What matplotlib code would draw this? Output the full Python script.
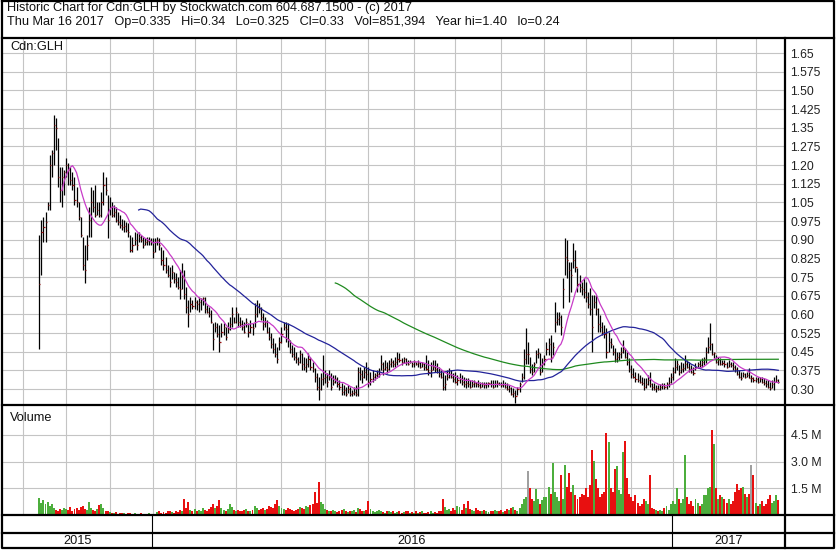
import numpy as np
import pandas as pd
import matplotlib
matplotlib.use("Agg")
import matplotlib.pyplot as plt

plt.rcParams['font.family'] = ['Liberation Sans', 'DejaVu Sans']

# ---------------- data ----------------
first_bar = "2015-10-14"
last_bar = "2017-03-16"
holidays = ["2015-10-12", "2015-12-25", "2015-12-28", "2016-01-01", "2016-02-15",
            "2016-03-25", "2016-05-23", "2016-07-01", "2016-08-01", "2016-09-05",
            "2016-10-10", "2016-12-26", "2016-12-27", "2017-01-02", "2017-02-20"]

highs = [
    0.92, 0.98, 0.99, 1.01, 1.05, 1.24, 1.26, 1.40, 1.39, 1.31,
    1.19, 1.19, 1.18, 1.23, 1.21, 1.19, 1.17, 1.15, 1.11, 1.05,
    0.99, 0.91, 0.88, 0.92, 1.03, 1.11, 1.10, 1.12, 1.05, 1.05,
    1.09, 1.17, 1.15, 1.08, 1.07, 1.05, 1.04, 1.03, 1.01, 1.00,
    0.985, 0.98, 0.97, 0.965, 0.92, 0.91, 0.93, 0.925, 0.93, 0.92,
    0.91, 0.905, 0.91, 0.91, 0.905, 0.905, 0.905, 0.91, 0.905,
    0.872, 0.86, 0.83, 0.80, 0.79, 0.80, 0.77, 0.765, 0.75, 0.78,
    0.805, 0.78, 0.71, 0.658, 0.67, 0.658, 0.67, 0.658, 0.67, 0.665,
    0.67, 0.67, 0.638, 0.63, 0.618, 0.564, 0.57, 0.564, 0.557, 0.564,
    0.564, 0.55, 0.57, 0.59, 0.63, 0.59, 0.63, 0.604, 0.59, 0.577,
    0.57, 0.584, 0.564, 0.577, 0.564, 0.645, 0.658, 0.645, 0.631, 0.604,
    0.59, 0.577, 0.55, 0.524, 0.504, 0.484, 0.47, 0.51, 0.55, 0.57,
    0.57, 0.564, 0.497, 0.477, 0.47, 0.45, 0.43, 0.457, 0.444, 0.43,
    0.424, 0.444, 0.43, 0.41, 0.383, 0.363, 0.35, 0.363, 0.437, 0.377,
    0.363, 0.377, 0.363, 0.356, 0.356, 0.35, 0.336, 0.323, 0.316, 0.31,
    0.316, 0.31, 0.296, 0.31, 0.316, 0.39, 0.39, 0.377, 0.39, 0.41,
    0.39, 0.37, 0.377, 0.363, 0.377, 0.383, 0.437, 0.41, 0.417, 0.41,
    0.417, 0.424, 0.417, 0.43, 0.45, 0.444, 0.424, 0.43, 0.424, 0.417,
    0.416, 0.41, 0.416, 0.41, 0.416, 0.41, 0.41, 0.403, 0.436, 0.416,
    0.41, 0.416, 0.416, 0.403, 0.39, 0.376, 0.37, 0.356, 0.376, 0.383,
    0.376, 0.363, 0.37, 0.356, 0.363, 0.356, 0.35, 0.343, 0.343, 0.336,
    0.336, 0.336, 0.33, 0.336, 0.33, 0.33, 0.33, 0.33, 0.33, 0.336,
    0.336, 0.336, 0.336, 0.33, 0.33, 0.336, 0.33, 0.323, 0.316, 0.31,
    0.303, 0.296, 0.31, 0.33, 0.363, 0.46, 0.545, 0.49, 0.43, 0.40,
    0.41,
    0.457, 0.463, 0.443, 0.423, 0.437, 0.49, 0.504, 0.517, 0.49, 0.651,
    0.611, 0.611, 0.597, 0.745, 0.905, 0.899, 0.812, 0.812, 0.885, 0.859,
    0.785, 0.758, 0.731, 0.745, 0.731, 0.691, 0.705, 0.678, 0.678, 0.678,
    0.624, 0.597, 0.571, 0.557, 0.544, 0.53, 0.504, 0.477, 0.463, 0.45,
    0.45, 0.47, 0.497, 0.463, 0.45, 0.423, 0.396, 0.383, 0.37, 0.363,
    0.356, 0.35, 0.343, 0.343, 0.356, 0.37,
    0.323, 0.323, 0.316, 0.316, 0.32, 0.323, 0.323, 0.33, 0.35, 0.363,
    0.39, 0.423, 0.416, 0.396, 0.41, 0.403, 0.437, 0.416, 0.41, 0.396,
    0.39, 0.403, 0.41, 0.416, 0.423, 0.43, 0.47, 0.51, 0.564, 0.483,
    0.45, 0.437, 0.43, 0.423, 0.416, 0.416, 0.41, 0.416, 0.41, 0.41,
    0.396, 0.39, 0.376, 0.37, 0.37, 0.363, 0.37, 0.383, 0.356, 0.35,
    0.35, 0.35, 0.35, 0.35, 0.343, 0.336, 0.336, 0.33, 0.336, 0.35,
    0.356, 0.34,
]

lows = [
    0.46, 0.76, 0.89, 0.89, 1.02, 1.02, 1.15, 1.20, 1.26, 1.11,
    1.05, 1.03, 1.08, 1.15, 1.12, 1.12, 1.10, 1.04, 1.03, 0.98,
    0.91, 0.78, 0.725, 0.82, 0.91, 0.91, 1.01, 0.99, 1.00, 0.99,
    0.99, 1.04, 1.08, 0.905, 1.00, 0.99, 0.99, 0.97, 0.96, 0.945,
    0.94, 0.93, 0.93, 0.912, 0.85, 0.85, 0.88, 0.86, 0.89, 0.89,
    0.865, 0.88, 0.88, 0.88, 0.88, 0.825, 0.85, 0.88, 0.86,
    0.80, 0.78, 0.765, 0.75, 0.71, 0.74, 0.725, 0.71, 0.70, 0.66,
    0.70, 0.66, 0.605, 0.55, 0.61, 0.62, 0.62, 0.618, 0.61, 0.618,
    0.638, 0.604, 0.604, 0.59, 0.564, 0.457, 0.53, 0.51, 0.45, 0.51,
    0.517, 0.497, 0.524, 0.537, 0.55, 0.564, 0.564, 0.55, 0.55, 0.537,
    0.524, 0.55, 0.51, 0.524, 0.517, 0.55, 0.59, 0.604, 0.577, 0.537,
    0.55, 0.524, 0.497, 0.464, 0.444, 0.43, 0.403, 0.457, 0.484, 0.537,
    0.49, 0.47, 0.444, 0.43, 0.417, 0.404, 0.397, 0.404, 0.377, 0.377,
    0.37, 0.39, 0.377, 0.37, 0.33, 0.296, 0.256, 0.296, 0.316, 0.323,
    0.31, 0.336, 0.296, 0.316, 0.323, 0.31, 0.296, 0.276, 0.276, 0.27,
    0.283, 0.27, 0.27, 0.276, 0.27, 0.27, 0.336, 0.323, 0.343, 0.336,
    0.31, 0.316, 0.33, 0.336, 0.343, 0.35, 0.377, 0.356, 0.377, 0.363,
    0.377, 0.39, 0.39, 0.39, 0.397, 0.41, 0.397, 0.404, 0.397, 0.397,
    0.403, 0.39, 0.39, 0.396, 0.39, 0.383, 0.39, 0.376, 0.376, 0.356,
    0.35, 0.376, 0.37, 0.363, 0.35, 0.343, 0.296, 0.296, 0.336, 0.343,
    0.343, 0.33, 0.323, 0.316, 0.323, 0.316, 0.31, 0.303, 0.31, 0.303,
    0.31, 0.31, 0.31, 0.31, 0.303, 0.31, 0.303, 0.303, 0.31, 0.31,
    0.303, 0.31, 0.31, 0.316, 0.31, 0.31, 0.303, 0.296, 0.29, 0.276,
    0.269, 0.245, 0.276, 0.29, 0.33, 0.34, 0.40, 0.40, 0.363, 0.356,
    0.37,
    0.403, 0.423, 0.356, 0.37, 0.396, 0.437, 0.437, 0.41, 0.437, 0.53,
    0.557, 0.557, 0.517, 0.624, 0.758, 0.745, 0.651, 0.691, 0.785, 0.771,
    0.691, 0.691, 0.678, 0.664, 0.651, 0.624, 0.597, 0.45, 0.624, 0.597,
    0.53, 0.53, 0.517, 0.504, 0.423, 0.45, 0.463, 0.437, 0.41, 0.41,
    0.417, 0.423, 0.443, 0.423, 0.396, 0.37, 0.343, 0.343, 0.33, 0.33,
    0.323, 0.316, 0.296, 0.303, 0.316, 0.31,
    0.296, 0.296, 0.29, 0.296, 0.296, 0.30, 0.30, 0.30, 0.31, 0.323,
    0.336, 0.363, 0.376, 0.356, 0.363, 0.37, 0.376, 0.383, 0.37, 0.363,
    0.356, 0.376, 0.383, 0.383, 0.39, 0.396, 0.403, 0.443, 0.457, 0.437,
    0.423, 0.403, 0.396, 0.396, 0.396, 0.39, 0.383, 0.39, 0.39, 0.376,
    0.37, 0.356, 0.343, 0.336, 0.35, 0.343, 0.35, 0.343, 0.33, 0.33,
    0.33, 0.323, 0.33, 0.323, 0.316, 0.31, 0.303, 0.296, 0.303, 0.296,
    0.33, 0.325,
]

closes = [
    0.72, 0.93, 0.95, 0.97, 1.04, 1.20, 1.25, 1.36, 1.35, 1.15,
    1.10, 1.15, 1.17, 1.20, 1.18, 1.14, 1.12, 1.06, 1.05, 0.99,
    0.92, 0.80, 0.78, 0.88, 0.98, 1.05, 1.03, 1.00, 1.02, 1.00,
    1.05, 1.12, 1.10, 0.98, 1.03, 1.00, 1.01, 0.98, 0.97, 0.96,
    0.95, 0.955, 0.94, 0.93, 0.86, 0.88, 0.90, 0.88, 0.91, 0.90,
    0.88, 0.89, 0.895, 0.90, 0.89, 0.85, 0.89, 0.90, 0.88,
    0.82, 0.80, 0.78, 0.76, 0.73, 0.77, 0.74, 0.73, 0.71, 0.70,
    0.75, 0.68, 0.63, 0.60, 0.64, 0.635, 0.65, 0.64, 0.65, 0.66,
    0.665, 0.62, 0.61, 0.60, 0.57, 0.50, 0.55, 0.52, 0.49, 0.53,
    0.55, 0.51, 0.54, 0.56, 0.60, 0.57, 0.61, 0.57, 0.56, 0.55,
    0.53, 0.57, 0.53, 0.55, 0.545, 0.60, 0.63, 0.62, 0.59, 0.56,
    0.57, 0.53, 0.51, 0.48, 0.46, 0.44, 0.42, 0.49, 0.52, 0.55,
    0.54, 0.50, 0.46, 0.44, 0.43, 0.42, 0.41, 0.44, 0.40, 0.39,
    0.40, 0.42, 0.39, 0.38, 0.35, 0.31, 0.30, 0.34, 0.345, 0.35,
    0.33, 0.35, 0.31, 0.33, 0.34, 0.32, 0.31, 0.29, 0.295, 0.28,
    0.30, 0.28, 0.285, 0.29, 0.28, 0.37, 0.36, 0.35, 0.37, 0.36,
    0.33, 0.34, 0.35, 0.355, 0.36, 0.37, 0.40, 0.38, 0.39, 0.38,
    0.40, 0.41, 0.40, 0.41, 0.42, 0.415, 0.41, 0.42, 0.41, 0.40,
    0.41, 0.40, 0.41, 0.40, 0.405, 0.39, 0.40, 0.39, 0.38, 0.37,
    0.375, 0.39, 0.38, 0.37, 0.36, 0.35, 0.31, 0.32, 0.35, 0.36,
    0.35, 0.34, 0.33, 0.335, 0.34, 0.33, 0.32, 0.325, 0.32, 0.31,
    0.32, 0.325, 0.32, 0.315, 0.31, 0.32, 0.315, 0.32, 0.325, 0.32,
    0.31, 0.32, 0.325, 0.32, 0.315, 0.32, 0.31, 0.30, 0.305, 0.28,
    0.285, 0.27, 0.30, 0.32, 0.35, 0.42, 0.44, 0.44, 0.38, 0.37,
    0.40,
    0.44, 0.445, 0.37, 0.40, 0.42, 0.46, 0.48, 0.43, 0.47, 0.57,
    0.58, 0.59, 0.55, 0.70, 0.83, 0.82, 0.78, 0.76, 0.82, 0.79,
    0.72, 0.71, 0.70, 0.69, 0.67, 0.64, 0.62, 0.55, 0.65, 0.62,
    0.56, 0.55, 0.53, 0.52, 0.45, 0.49, 0.48, 0.45, 0.42, 0.43,
    0.44, 0.45, 0.46, 0.43, 0.41, 0.38, 0.36, 0.35, 0.34, 0.335,
    0.33, 0.325, 0.31, 0.32, 0.335, 0.32,
    0.31, 0.30, 0.305, 0.30, 0.31, 0.315, 0.31, 0.32, 0.33, 0.35,
    0.37, 0.39, 0.40, 0.37, 0.38, 0.385, 0.40, 0.39, 0.38, 0.37,
    0.365, 0.39, 0.40, 0.395, 0.41, 0.42, 0.45, 0.47, 0.48, 0.44,
    0.445, 0.41, 0.415, 0.40, 0.405, 0.40, 0.39, 0.40, 0.395, 0.39,
    0.38, 0.36, 0.35, 0.345, 0.36, 0.35, 0.355, 0.345, 0.345, 0.335,
    0.34, 0.33, 0.34, 0.33, 0.325, 0.32, 0.31, 0.305, 0.32, 0.33,
    0.335, 0.33,
]

volume_m = [
    0.95, 0.70, 0.85, 0.60, 0.75, 0.50, 0.60, 0.40, 0.30, 0.25,
    0.35, 0.30, 0.40, 0.35, 0.30, 0.45, 0.25, 0.35, 0.40, 0.30,
    0.45, 0.50, 0.35, 0.30, 0.75, 0.40, 0.30, 0.25, 0.35, 0.55,
    0.60, 0.40, 0.25, 0.20, 0.15, 0.12, 0.10, 0.15, 0.08, 0.10,
    0.12, 0.10, 0.08, 0.10, 0.12, 0.08, 0.10, 0.06, 0.08, 0.10,
    0.07, 0.05, 0.08, 0.10, 0.06, 0.05, 0.08, 0.15, 0.20, 0.12,
    0.18, 0.10, 0.20, 0.25, 0.15, 0.12, 0.20, 0.18, 0.30, 0.25,
    0.90, 0.40, 0.73, 0.30, 0.25, 0.35, 0.20, 0.30, 0.25, 0.40,
    0.30, 0.20, 0.35, 0.45, 0.60, 0.40, 0.50, 0.83, 0.40, 0.30,
    0.25, 0.35, 0.60, 0.45, 0.30, 0.25, 0.30, 0.20, 0.25, 0.30,
    0.35, 0.25, 0.20, 0.30, 0.50, 0.40, 0.30, 0.35, 0.40, 0.30,
    0.35, 0.50, 0.45, 0.40, 0.60, 0.83, 0.50, 0.40, 0.35, 0.30,
    0.40, 0.35, 0.30, 0.25, 0.30, 0.35, 0.45, 0.40, 0.35, 0.50,
    0.45, 0.55, 0.60, 1.30, 0.70, 1.85, 0.75, 0.60, 0.35, 0.30,
    0.25, 0.20, 0.30, 0.25, 0.15, 0.20, 0.30, 0.35, 0.20, 0.15,
    0.25, 0.20, 0.30, 0.15, 0.40, 0.35, 0.20, 0.25, 0.30, 0.80,
    0.35, 0.20, 0.15, 0.25, 0.30, 0.20, 0.15, 0.10, 0.20, 0.25,
    0.15, 0.20, 0.10, 0.15, 0.20, 0.10, 0.15, 0.25, 0.20, 0.10,
    0.15, 0.12, 0.20, 0.10, 0.15, 0.20, 0.12, 0.10, 0.15, 0.20,
    0.10, 0.15, 0.12, 0.20, 0.25, 0.88, 0.45, 0.30, 0.35, 0.25,
    0.40, 0.30, 0.50, 0.45, 0.30, 0.60, 0.40, 0.80, 0.35, 0.30,
    0.25, 0.40, 0.30, 0.20, 0.25, 0.30, 0.20, 0.15, 0.25, 0.20,
    0.30, 0.25, 0.20, 0.30, 0.15, 0.20, 0.35, 0.30, 0.40, 0.45,
    0.30, 0.25, 0.40, 0.60, 0.90, 1.00, 2.50, 1.50, 0.90, 0.80,
    1.45, 0.90, 0.60, 0.85, 1.00, 1.00, 1.55, 1.20, 2.90, 1.30,
    1.00, 0.80, 2.27, 0.90, 2.80, 1.60, 2.37, 1.30, 1.70, 1.10,
    0.90, 1.00, 1.20, 1.10, 1.50, 1.00, 1.70, 3.67, 3.04, 2.04,
    1.50, 1.00, 1.20, 1.30, 4.60, 4.08, 1.50, 1.30, 2.56, 2.75,
    1.40, 1.20, 3.56, 4.13, 2.10, 1.20, 1.00, 0.80, 1.10, 0.70,
    0.50, 0.60, 0.90, 0.80, 0.60, 2.27, 0.40, 0.35, 0.30, 0.25,
    0.30, 0.25, 0.40, 0.50, 0.30, 0.60,
    0.80, 0.60, 1.50, 0.90, 0.70, 0.90, 3.37, 1.00, 0.60, 0.80,
    0.50, 0.90, 0.70, 0.50, 0.60, 1.10, 1.10, 1.50, 1.60, 4.75,
    4.00, 1.50, 0.90, 1.10, 1.00, 0.90, 0.70, 0.90, 0.60, 0.80,
    1.30, 1.73, 1.40, 1.50, 1.60, 1.20, 1.00, 1.20, 2.80, 2.27,
    0.70, 0.50, 0.60, 0.80, 0.50, 0.60, 0.90, 1.10, 0.70, 0.80,
    1.10, 0.85,
]

price_ticks = [1.65, 1.575, 1.50, 1.425, 1.35, 1.275, 1.20, 1.125, 1.05, 0.975,
               0.90, 0.825, 0.75, 0.675, 0.60, 0.525, 0.45, 0.375, 0.30]
price_labels = ["1.65", "1.575", "1.50", "1.425", "1.35", "1.275", "1.20", "1.125",
                "1.05", "0.975", "0.90", "0.825", "0.75", "0.675", "0.60", "0.525",
                "0.45", "0.375", "0.30"]
vol_ticks = [1.5, 3.0, 4.5]
vol_labels = ["1.5 M", "3.0 M", "4.5 M"]
ma_windows = {"short": 12, "mid": 49, "long": 144}

header1 = "Historic Chart for Cdn:GLH by Stockwatch.com 604.687.1500 - (c) 2017"
header2 = ("Thu Mar 16 2017   Op=0.335   Hi=0.34   Lo=0.325   Cl=0.33   Vol=851,394   "
           "Year hi=1.40   lo=0.24")

lens = [len(highs), len(lows), len(closes), len(volume_m)]
if len(set(lens)) != 1:
    raise ValueError("length mismatch %s" % lens)

# ---------------- layout ----------------
W, H = 837, 554
X0, DX = 39.3, 2.07          # pixel of first bar, pixels per trading day
LEFT, RIGHT = 3, 785
P_TOP, P_BOT = 38, 405
V_BOT = 515
ROW2 = 533
BOTTOM = 548

fig = plt.figure(figsize=(W / 100, H / 100), dpi=100)

cal = pd.bdate_range("2015-10-01", last_bar)
cal = cal[~cal.isin(pd.to_datetime(holidays))]
pos = np.arange(len(cal)) - cal.get_loc(pd.Timestamp(first_bar))
ser = pd.Series(pos, index=cal)
month_pos = ser.groupby([cal.year, cal.month]).first().values
year_first = ser.groupby(cal.year).first()
year_bounds = [year_first[2016] - 0.5, year_first[2017] - 0.5]

n = len(closes)
x = np.arange(n)
cl = pd.Series(closes)

xlim = ((LEFT - X0) / DX, (RIGHT - X0) / DX)


def ax_rect(top, bot):
    return [LEFT / W, 1 - bot / H, (RIGHT - LEFT) / W, (bot - top) / H]


grid_c = "#c4c4c4"
FS = 9.2

# price panel
ax = fig.add_axes(ax_rect(P_TOP, P_BOT))
ax.set_xlim(*xlim)
ax.set_ylim(1.65 - (P_BOT - 53) / 248.9, 1.65 + (53 - P_TOP) / 248.9)
ax.set_xticks(month_pos)
ax.set_yticks(price_ticks)
ax.set_yticklabels(price_labels)
ax.yaxis.tick_right()
ax.tick_params(axis="x", length=0, labelbottom=False)
ax.tick_params(axis="y", length=0, pad=4, labelsize=8.8, colors="#222222")
ax.grid(True, color=grid_c, lw=0.8)
ax.set_axisbelow(True)
for s in ax.spines.values():
    s.set_visible(False)

ax.vlines(x, lows, highs, color="black", lw=0.9, zorder=3)
ax.hlines(closes, x, x + 0.55, color="#9a1010", lw=0.9, zorder=4)

ma_s = cl.rolling(ma_windows["short"]).mean()
ma_m = cl.rolling(ma_windows["mid"]).mean()
ma_l = cl.rolling(ma_windows["long"]).mean()
ax.plot(x, ma_l, color="#1f8a1f", lw=0.9, zorder=5)
ax.plot(x, ma_m, color="#23239a", lw=0.9, zorder=5)
ax.plot(x, ma_s, color="#c83cc8", lw=0.9, zorder=5)

# volume panel
vax = fig.add_axes(ax_rect(P_BOT, V_BOT))
vax.set_xlim(*xlim)
vax.set_ylim(0, (V_BOT - P_BOT) / 26.7 * 1.5)
vax.set_xticks(month_pos)
vax.set_yticks(vol_ticks)
vax.set_yticklabels(vol_labels)
vax.yaxis.tick_right()
vax.tick_params(axis="x", length=0, labelbottom=False)
vax.tick_params(axis="y", length=0, pad=4, labelsize=8.8, colors="#222222")
vax.grid(True, color=grid_c, lw=0.8)
vax.set_axisbelow(True)
for s in vax.spines.values():
    s.set_visible(False)
diff = cl.diff().fillna(1).values
vcol = np.where(diff > 0, "#4cae3c", np.where(diff < 0, "#e81010", "#a0a0a0"))
vax.bar(x, volume_m, width=0.95, color=vcol, linewidth=0, zorder=3)

# overlay: frame, header, year row
ov = fig.add_axes([0, 0, 1, 1], zorder=10)
ov.set_xlim(0, W)
ov.set_ylim(H, 0)
ov.axis("off")
ov.patch.set_alpha(0)
k = "black"
thick = 1.6
ov.plot([2, 834, 834, 2, 2], [1, 1, BOTTOM, BOTTOM, 1], color=k, lw=thick)
for yy in (P_TOP, P_BOT, V_BOT, ROW2):
    ov.plot([2, 834], [yy, yy], color=k, lw=thick)
ov.plot([RIGHT, RIGHT], [P_TOP, BOTTOM], color=k, lw=thick)
sep_px = [X0 + DX * b for b in year_bounds]
for sx in sep_px:
    ov.plot([sx, sx], [V_BOT, BOTTOM], color=k, lw=0.8)
edges = [LEFT] + sep_px + [RIGHT]
for lab, a, b in zip(["2015", "2016", "2017"], edges[:-1], edges[1:]):
    ov.text((a + b) / 2, (ROW2 + BOTTOM) / 2 + 0.5, lab, ha="center", va="center",
            fontsize=FS, color="#111111")
ov.text(7, 8.5, header1, ha="left", va="center", fontsize=FS, color="#111111")
ov.text(7, 22.5, header2, ha="left", va="center", fontsize=FS, color="#111111")
ov.text(10, 47, "Cdn:GLH", ha="left", va="center", fontsize=FS, color="#111111")
ov.text(10, 418, "Volume", ha="left", va="center", fontsize=FS, color="#111111")

fig.savefig("out.png", dpi=100)
